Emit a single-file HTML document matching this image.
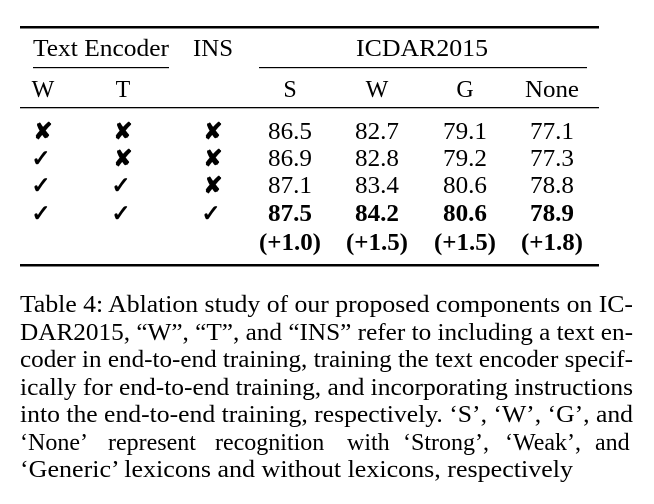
<!DOCTYPE html>
<html><head><meta charset="utf-8"><style>
html,body{margin:0;padding:0;background:#fff;}
svg{display:block;}
text{font-family:"Liberation Serif","DejaVu Serif",serif;fill:#000;}
</style></head><body>
<svg width="654" height="504" viewBox="0 0 654 504" xmlns="http://www.w3.org/2000/svg">
<rect x="20" y="26" width="579" height="2.5" fill="#000"/>
<rect x="33" y="67" width="136" height="1.2" fill="#000"/>
<rect x="259" y="67" width="328" height="1.2" fill="#000"/>
<rect x="20" y="107" width="579" height="1.3" fill="#000"/>
<rect x="20" y="264" width="579" height="2.5" fill="#000"/>
<g font-size="24" text-anchor="middle">
<text x="101" y="56" textLength="136" lengthAdjust="spacingAndGlyphs">Text Encoder</text>
<text x="213" y="56" textLength="40" lengthAdjust="spacingAndGlyphs">INS</text>
<text x="422" y="56" textLength="132" lengthAdjust="spacingAndGlyphs">ICDAR2015</text>
<text x="43" y="97">W</text><text x="123" y="97">T</text>
<text x="290" y="97">S</text><text x="377" y="97">W</text><text x="465" y="97">G</text><text x="552" y="97" textLength="54" lengthAdjust="spacingAndGlyphs">None</text>
<g font-family="DejaVu Sans" font-size="23" font-weight="bold">
<text x="43" y="139">✘</text><text x="123" y="139">✘</text><text x="213" y="139">✘</text>
<text x="41" y="166">✓</text><text x="123" y="166">✘</text><text x="213" y="166">✘</text>
<text x="41" y="193">✓</text><text x="121" y="193">✓</text><text x="213" y="193">✘</text>
<text x="41" y="221">✓</text><text x="121" y="221">✓</text><text x="211" y="221">✓</text>
</g>
<g>
<text x="290" y="139" textLength="44" lengthAdjust="spacingAndGlyphs">86.5</text><text x="377" y="139" textLength="44" lengthAdjust="spacingAndGlyphs">82.7</text><text x="465" y="139" textLength="44" lengthAdjust="spacingAndGlyphs">79.1</text><text x="552" y="139" textLength="44" lengthAdjust="spacingAndGlyphs">77.1</text>
<text x="290" y="166" textLength="44" lengthAdjust="spacingAndGlyphs">86.9</text><text x="377" y="166" textLength="44" lengthAdjust="spacingAndGlyphs">82.8</text><text x="465" y="166" textLength="44" lengthAdjust="spacingAndGlyphs">79.2</text><text x="552" y="166" textLength="44" lengthAdjust="spacingAndGlyphs">77.3</text>
<text x="290" y="193" textLength="44" lengthAdjust="spacingAndGlyphs">87.1</text><text x="377" y="193" textLength="44" lengthAdjust="spacingAndGlyphs">83.4</text><text x="465" y="193" textLength="44" lengthAdjust="spacingAndGlyphs">80.6</text><text x="552" y="193" textLength="44" lengthAdjust="spacingAndGlyphs">78.8</text>
</g>
<g font-weight="bold">
<text x="290" y="221" textLength="44" lengthAdjust="spacingAndGlyphs">87.5</text><text x="377" y="221" textLength="44" lengthAdjust="spacingAndGlyphs">84.2</text><text x="465" y="221" textLength="44" lengthAdjust="spacingAndGlyphs">80.6</text><text x="552" y="221" textLength="44" lengthAdjust="spacingAndGlyphs">78.9</text>
<text x="290" y="250" textLength="62" lengthAdjust="spacingAndGlyphs">(+1.0)</text><text x="377" y="250" textLength="62" lengthAdjust="spacingAndGlyphs">(+1.5)</text><text x="465" y="250" textLength="62" lengthAdjust="spacingAndGlyphs">(+1.5)</text><text x="552" y="250" textLength="62" lengthAdjust="spacingAndGlyphs">(+1.8)</text>
</g>
</g>
<g font-size="24">
<text x="20" y="312" textLength="613" lengthAdjust="spacingAndGlyphs">Table 4: Ablation study of our proposed components on IC-</text>
<text x="20" y="340" textLength="613" lengthAdjust="spacingAndGlyphs">DAR2015, “W”, “T”, and “INS” refer to including a text en-</text>
<text x="20" y="367" textLength="613" lengthAdjust="spacingAndGlyphs">coder in end-to-end training, training the text encoder specif-</text>
<text x="20" y="395" textLength="613" lengthAdjust="spacingAndGlyphs">ically for end-to-end training, and incorporating instructions</text>
<text x="20" y="422" textLength="613" lengthAdjust="spacingAndGlyphs">into the end-to-end training, respectively. ‘S’, ‘W’, ‘G’, and</text>
<text y="450"><tspan x="20">‘None’</tspan><tspan x="108">represent</tspan><tspan x="215">recognition</tspan><tspan x="347">with</tspan><tspan x="403">‘Strong’,</tspan><tspan x="505">‘Weak’,</tspan><tspan x="595">and</tspan></text>
<text x="20" y="477" textLength="553" lengthAdjust="spacingAndGlyphs">‘Generic’ lexicons and without lexicons, respectively</text>
</g>
</svg>
</body></html>
